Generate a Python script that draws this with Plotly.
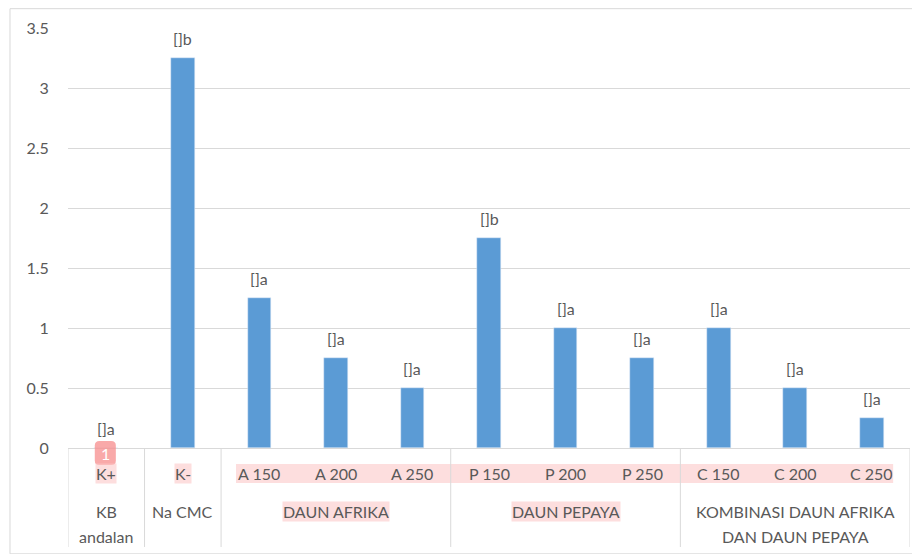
import plotly.graph_objects as go

categories = ["K+", "K-", "A 150", "A 200", "A 250", "P 150", "P 200", "P 250", "C 150", "C 200", "C 250"]
values = [0, 3.25, 1.25, 0.75, 0.5, 1.75, 1.0, 0.75, 1.0, 0.5, 0.25]
bar_labels = ["[]a", "[]b", "[]a", "[]a", "[]a", "[]b", "[]a", "[]a", "[]a", "[]a", "[]a"]
groups = [["KB", "andalan"], ["Na CMC"], ["DAUN AFRIKA"], ["DAUN PEPAYA"], ["KOMBINASI DAUN AFRIKA", "DAN DAUN PEPAYA"]]
group_sizes = [1, 1, 3, 3, 3]
group_highlight = [False, False, True, True, False]
y_ticks = [0, 0.5, 1, 1.5, 2, 2.5, 3, 3.5]

FONT = "Lato, 'Open Sans', sans-serif"
TXT = "#595959"
GRID = "#d9d9d9"
PINK = "rgba(252,200,200,0.6)"
FS = 16

x = list(range(len(categories)))
fig = go.Figure(go.Bar(x=x, y=values, marker_color="#5b9bd5", width=0.31, hoverinfo="skip"))

ann = []
shapes = []
# bar labels
for i, (v, t) in enumerate(zip(values, bar_labels)):
    ann.append(dict(x=i, y=v, xref="x", yref="y", text=t, showarrow=False,
                    yanchor="bottom", yshift=8, font=dict(size=FS, color=TXT, family=FONT)))
# pink band behind A150..C250
shapes.append(dict(type="rect", xref="x", yref="paper", x0=1.695, x1=10.28,
                   y0=-0.0381, y1=-0.0833, fillcolor=PINK, line=dict(width=0), layer="above"))
# badge (rounded rectangle)
bx0, bx1, by0, by1, rx, ry = -0.15, 0.125, -0.0405, 0.0167, 0.06, 0.011
badge = (f"M {bx0+rx} {by1} L {bx1-rx} {by1} Q {bx1} {by1} {bx1} {by1-ry} "
         f"L {bx1} {by0+ry} Q {bx1} {by0} {bx1-rx} {by0} L {bx0+rx} {by0} "
         f"Q {bx0} {by0} {bx0} {by0+ry} L {bx0} {by1-ry} Q {bx0} {by1} {bx0+rx} {by1} Z")
shapes.append(dict(type="path", xref="x", yref="paper", path=badge,
                   fillcolor="rgba(247,140,140,0.75)", line=dict(width=0), layer="above"))
# category labels
for i, c in enumerate(categories):
    ann.append(dict(x=i, y=0, xref="x", yref="paper", text=c, showarrow=False,
                    yanchor="middle", yshift=-25, borderpad=0,
                    bgcolor=PINK if i < 2 else None,
                    font=dict(size=FS, color=TXT, family=FONT)))
ann.append(dict(x=-0.012, y=0, xref="x", yref="paper", text="1", showarrow=False,
                yanchor="middle", yshift=-5, font=dict(size=FS, color="white", family=FONT)))
# group labels and separators
start = 0
bounds = [-0.5]
for g, n, hl in zip(groups, group_sizes, group_highlight):
    center = start + (n - 1) / 2
    for k, line in enumerate(g):
        ann.append(dict(x=center, y=0, xref="x", yref="paper", text=line, showarrow=False,
                        yanchor="middle", yshift=-63 - 25 * k, borderpad=0,
                        bgcolor=PINK if hl else None,
                        font=dict(size=FS, color=TXT, family=FONT)))
    start += n
    bounds.append(start - 0.5)
for b in bounds:
    shapes.append(dict(type="line", xref="x", yref="paper", x0=b, x1=b, y0=0, y1=-0.2357,
                       line=dict(color=GRID, width=1)))
# outer border
shapes.append(dict(type="rect", xref="paper", yref="paper", x0=-0.0689, x1=1.0107,
                   y0=-0.252, y1=1.046, line=dict(color=GRID, width=1)))

# page body has an 8px margin, so the figure is 912x546 placed at (8, 8)
fig.update_layout(
    width=912, height=546,
    margin=dict(l=60, r=10, t=20, b=106),
    plot_bgcolor="white", paper_bgcolor="white",
    showlegend=False, bargap=0,
    annotations=ann, shapes=shapes,
    font=dict(family=FONT, color=TXT, size=FS),
    xaxis=dict(range=[-0.5, 10.5], showticklabels=False, showgrid=False, zeroline=False,
               showline=True, linecolor=GRID, linewidth=1, ticks="", fixedrange=True),
    yaxis=dict(range=[0, 3.5], tickvals=y_ticks, showgrid=True, gridcolor=GRID, gridwidth=1,
               zeroline=False, showline=False, ticks="outside", ticklen=15,
               tickcolor="rgba(0,0,0,0)", tickfont=dict(size=FS, color=TXT, family=FONT),
               fixedrange=True),
)
fig.write_html("out.html")
